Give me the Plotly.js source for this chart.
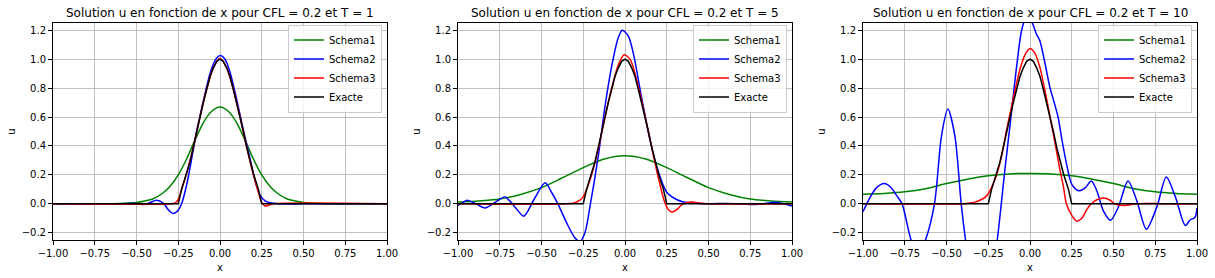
<!DOCTYPE html>
<html>
<head>
<meta charset="utf-8">
<script src="https://cdn.plot.ly/plotly-3.0.1.min.js"></script>
<style>html,body{margin:0;padding:0;background:#fff;}#chart{width:1215px;height:278px;}</style>
</head>
<body>
<div id="chart"></div>
<script>
// ---------- data ----------
const seriesNames = ["Schema1", "Schema2", "Schema3", "Exacte"];
const panelTitles = [
  "Solution u en fonction de x pour CFL = 0.2 et T = 1",
  "Solution u en fonction de x pour CFL = 0.2 et T = 5",
  "Solution u en fonction de x pour CFL = 0.2 et T = 10"
];
const xTicks = [-1, -0.75, -0.5, -0.25, 0, 0.25, 0.5, 0.75, 1];
const yTicks = [-0.2, 0, 0.2, 0.4, 0.6, 0.8, 1.0, 1.2];

// Exact solution (same on the three panels)
const exactX = [-1, -0.5, -0.26, -0.25, -0.23, -0.2, -0.18, -0.16, -0.14, -0.12, -0.1, -0.08, -0.06, -0.04, -0.02, 0,
                0.02, 0.04, 0.06, 0.08, 0.1, 0.12, 0.14, 0.16, 0.18, 0.2, 0.23, 0.25, 0.26, 0.5, 1];
const exactU = [0, 0, 0, 0, 0.1, 0.21, 0.29, 0.39, 0.5, 0.6, 0.7, 0.79, 0.88, 0.94, 0.985, 1.0,
                0.985, 0.94, 0.88, 0.79, 0.7, 0.6, 0.5, 0.39, 0.29, 0.21, 0.1, 0, 0, 0, 0];

// Panel 1 : T = 1
const s1T1X = [-1, -0.7, -0.6, -0.5, -0.45, -0.4, -0.35, -0.3, -0.25, -0.2, -0.15, -0.1, -0.05, 0,
               0.05, 0.1, 0.15, 0.2, 0.25, 0.3, 0.35, 0.4, 0.45, 0.5, 0.6, 0.7, 1];
const s1T1U = [0, 0.001, 0.003, 0.01, 0.02, 0.035, 0.068, 0.12, 0.2, 0.31, 0.44, 0.56, 0.64, 0.67,
               0.64, 0.56, 0.44, 0.31, 0.2, 0.12, 0.068, 0.035, 0.02, 0.01, 0.003, 0.001, 0];
const s2T1X = [-1, -0.6, -0.5, -0.46, -0.42, -0.38, -0.34, -0.31, -0.28, -0.25, -0.23, -0.2, -0.17, -0.14, -0.1,
               -0.06, -0.03, 0, 0.03, 0.06, 0.1, 0.14, 0.18, 0.21, 0.24, 0.27, 0.3, 0.35, 0.5, 1];
const s2T1U = [0, 0, 0.003, -0.005, 0.008, 0.025, 0.006, -0.04, -0.067, -0.045, 0.0, 0.13, 0.31, 0.5, 0.71,
               0.9, 0.99, 1.025, 1.0, 0.91, 0.72, 0.51, 0.31, 0.16, 0.06, 0.02, 0.007, 0, 0, 0];
const s3T1X = [-1, -0.3, -0.27, -0.25, -0.23, -0.2, -0.16, -0.12, -0.08, -0.04, 0, 0.04, 0.08, 0.12, 0.16,
               0.2, 0.23, 0.25, 0.27, 0.29, 0.32, 1];
const s3T1U = [0, 0, 0.005, 0.03, 0.1, 0.21, 0.39, 0.6, 0.79, 0.94, 1.005, 0.94, 0.79, 0.6, 0.39,
               0.2, 0.08, 0.01, -0.015, -0.01, 0, 0];

// Panel 2 : T = 5
const s1T5X = [-1, -0.875, -0.75, -0.625, -0.5, -0.375, -0.25, -0.125, 0, 0.125, 0.25, 0.375, 0.5, 0.625, 0.75, 0.875, 1];
const s1T5U = [0.012, 0.02, 0.033, 0.065, 0.112, 0.18, 0.25, 0.31, 0.333, 0.31, 0.25, 0.18, 0.112, 0.065, 0.033, 0.02, 0.012];
const s2T5X = [-1, -0.97, -0.946, -0.892, -0.838, -0.778, -0.718, -0.662, -0.606, -0.545, -0.478, -0.44, -0.402, -0.35,
               -0.3, -0.27, -0.24, -0.207, -0.16, -0.12, -0.08, -0.04, -0.016, 0.02, 0.05, 0.1, 0.15, 0.2, 0.25,
               0.3, 0.35, 0.4, 0.5, 0.6, 0.7, 0.78, 0.83, 0.87, 0.91, 0.95, 1];
const s2T5U = [-0.01, 0.01, 0.025, 0.0, -0.028, 0.01, 0.048, -0.018, -0.085, 0.03, 0.145, 0.08, 0.0, -0.13,
               -0.235, -0.26, -0.2, 0.0, 0.33, 0.67, 0.95, 1.15, 1.2, 1.16, 1.04, 0.73, 0.44, 0.22, 0.08,
               0.035, 0.012, 0.005, 0.0, 0.003, 0.0, -0.005, 0.0, 0.008, 0.01, 0.0, -0.015];
const s3T5X = [-1, -0.35, -0.3, -0.27, -0.25, -0.22, -0.19, -0.16, -0.12, -0.08, -0.04, -0.005, 0.03, 0.06, 0.1,
               0.14, 0.18, 0.21, 0.235, 0.26, 0.28, 0.31, 0.34, 0.37, 0.4, 0.45, 0.5, 1];
const s3T5U = [0, 0, 0.008, 0.025, 0.05, 0.13, 0.24, 0.38, 0.6, 0.8, 0.96, 1.03, 1.0, 0.9, 0.71,
               0.5, 0.28, 0.13, 0.02, -0.04, -0.057, -0.04, -0.005, 0.01, 0.012, 0.005, 0, 0];

// Panel 3 : T = 10
const s1T10X = [-1, -0.875, -0.75, -0.625, -0.5, -0.375, -0.25, -0.125, 0, 0.125, 0.25, 0.375, 0.5, 0.625, 0.75, 0.875, 1];
const s1T10U = [0.067, 0.072, 0.083, 0.105, 0.14, 0.17, 0.194, 0.207, 0.21, 0.207, 0.194, 0.17, 0.14, 0.105, 0.083, 0.072, 0.067];
const s2T10X = [-1, -0.96, -0.92, -0.872, -0.83, -0.8, -0.766, -0.712, -0.669, -0.626, -0.572, -0.53, -0.492, -0.45,
                -0.412, -0.386, -0.34, -0.29, -0.24, -0.196, -0.172, -0.15, -0.114, -0.08, -0.05, -0.02, 0.01,
                0.04, 0.058, 0.09, 0.118, 0.145, 0.168, 0.19, 0.218, 0.248, 0.275, 0.297, 0.33, 0.367, 0.4,
                0.44, 0.483, 0.53, 0.587, 0.64, 0.697, 0.76, 0.816, 0.87, 0.93, 0.96, 0.98, 0.99, 1.0];
const s2T10U = [-0.055, 0.04, 0.11, 0.14, 0.11, 0.06, 0.0, -0.25, -0.35, -0.25, 0.0, 0.47, 0.655, 0.47,
                0.0, -0.25, -0.6, -0.73, -0.6, -0.25, 0.0, 0.24, 0.6, 0.95, 1.2, 1.3, 1.26,
                1.17, 1.13, 0.97, 0.81, 0.7, 0.6, 0.45, 0.28, 0.14, 0.1, 0.09, 0.11, 0.157, 0.09,
                -0.05, -0.113, -0.02, 0.157, 0.02, -0.175, -0.02, 0.185, 0.05, -0.15, -0.11, -0.1, -0.09, -0.03];
const s3T10X = [-1, -0.4, -0.36, -0.33, -0.3, -0.27, -0.25, -0.22, -0.2, -0.17, -0.142, -0.1, -0.06, -0.03, 0,
                0.03, 0.06, 0.09, 0.12, 0.15, 0.18, 0.2, 0.218, 0.25, 0.28, 0.31, 0.34, 0.367, 0.4, 0.44,
                0.48, 0.507, 0.545, 0.58, 0.62, 0.7, 0.8, 1];
const s3T10U = [0, 0, 0.005, 0.012, 0.025, 0.045, 0.07, 0.14, 0.2, 0.33, 0.5, 0.73, 0.93, 1.03, 1.073,
                1.04, 0.94, 0.78, 0.6, 0.42, 0.23, 0.12, 0.0, -0.08, -0.12, -0.1, -0.04, 0.0, 0.028, 0.04,
                0.025, 0.0, -0.01, -0.01, -0.002, 0.003, 0, 0];

// ---------- figure ----------
const colors = ["green", "blue", "red", "black"];
const panels = [
  [[s1T1X, s1T1U], [s2T1X, s2T1U], [s3T1X, s3T1U], [exactX, exactU]],
  [[s1T5X, s1T5U], [s2T5X, s2T5U], [s3T5X, s3T5U], [exactX, exactU]],
  [[s1T10X, s1T10U], [s2T10X, s2T10U], [s3T10X, s3T10U], [exactX, exactU]]
];

const W = 1215, H = 278;
const mL = 53, mR = 18, mT = 23, mB = 38;
const plotW = W - mL - mR;
const domains = [[0, 334 / plotW], [405 / plotW, 739 / plotW], [810 / plotW, 1]];
const FONT = "DejaVu Sans, sans-serif";

const traces = [];
panels.forEach((p, i) => {
  const sfx = i === 0 ? "" : String(i + 1);
  p.forEach((s, j) => {
    traces.push({
      type: "scatter", mode: "lines",
      x: s[0], y: s[1], name: seriesNames[j],
      xaxis: "x" + sfx, yaxis: "y" + sfx,
      legend: "legend" + sfx,
      line: { color: colors[j], width: 1.5, shape: j === 3 ? "linear" : "spline", smoothing: 0.8 },
      hoverinfo: "skip"
    });
  });
});

const layout = {
  width: W, height: H,
  margin: { l: mL, r: mR, t: mT, b: mB, pad: 0 },
  paper_bgcolor: "#fff", plot_bgcolor: "#fff",
  font: { family: FONT, size: 10, color: "#000" },
  showlegend: true,
  annotations: []
};

domains.forEach((d, i) => {
  const sfx = i === 0 ? "" : String(i + 1);
  layout["xaxis" + sfx] = {
    domain: d, anchor: "y" + sfx, range: [-1, 1],
    tickvals: xTicks, tickformat: ".2f",
    ticks: "outside", ticklen: 4, tickwidth: 1, tickcolor: "#000",
    showgrid: true, gridcolor: "#b0b0b0", gridwidth: 0.8,
    showline: true, linecolor: "#000", linewidth: 1, mirror: true,
    zeroline: false,
    tickfont: { family: FONT, size: 10, color: "#000" },
    title: { text: "x", font: { family: FONT, size: 10, color: "#000" }, standoff: 5 }
  };
  layout["yaxis" + sfx] = {
    domain: [0, 1], anchor: "x" + sfx, range: [-0.25, 1.25],
    tickvals: yTicks, tickformat: ".1f",
    ticks: "outside", ticklen: 4, tickwidth: 1, tickcolor: "#000",
    showgrid: true, gridcolor: "#b0b0b0", gridwidth: 0.8,
    showline: true, linecolor: "#000", linewidth: 1, mirror: true,
    zeroline: false,
    tickfont: { family: FONT, size: 10, color: "#000" },
    title: { text: "u", font: { family: FONT, size: 10, color: "#000" }, standoff: 4 }
  };
  layout["legend" + sfx] = {
    x: d[1] - 5 / plotW, xanchor: "right",
    y: 1 - 1.5 / (H - mT - mB), yanchor: "top",
    bgcolor: "rgba(255,255,255,0.8)", bordercolor: "#cccccc", borderwidth: 1,
    font: { family: FONT, size: 10, color: "#000" },
    itemwidth: 30, tracegroupgap: 0
  };
  layout.annotations.push({
    xref: "paper", yref: "paper",
    x: (d[0] + d[1]) / 2, y: 1, xanchor: "center", yanchor: "bottom", yshift: 1,
    text: panelTitles[i], showarrow: false,
    font: { family: FONT, size: 12, color: "#000" }
  });
});

Plotly.newPlot("chart", traces, layout, { staticPlot: true, displayModeBar: false });
</script>
</body>
</html>
